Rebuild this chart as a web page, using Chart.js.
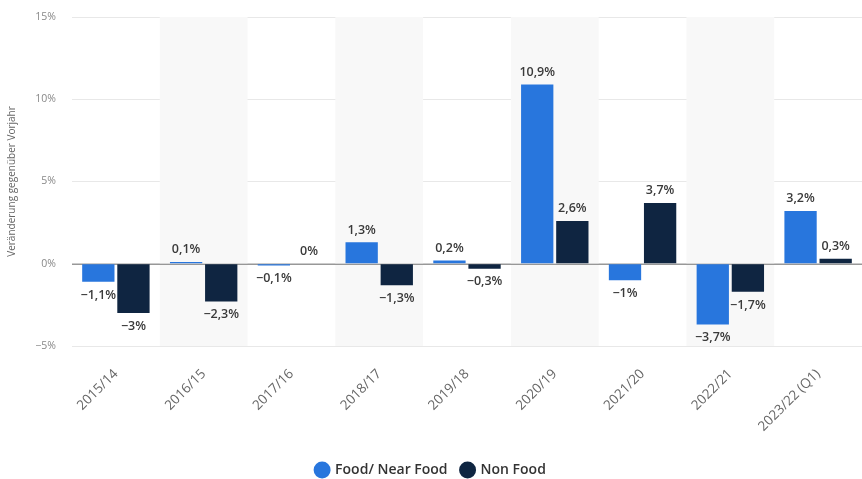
<!DOCTYPE html>
<html><head><meta charset="utf-8">
<script src="https://cdn.jsdelivr.net/npm/chart.js@4"></script>
<style>html,body{margin:0;padding:0;background:#fff;overflow:hidden}#w{width:862px;height:479px}</style>
</head><body><div id="w"><canvas id="c"></canvas></div>
<script>
const categories = ["2015/14","2016/15","2017/16","2018/17","2019/18","2020/19","2021/20","2022/21","2023/22 (Q1)"];
const foodValues = [-1.1, 0.1, -0.1, 1.3, 0.2, 10.9, -1, -3.7, 3.2];
const nonFoodValues = [-3, -2.3, 0, -1.3, -0.3, 2.6, 3.7, -1.7, 0.3];
const seriesNames = ["Food/ Near Food", "Non Food"];
const yTicks = [-5, 0, 5, 10, 15];
const yTitle = "Veränderung gegenüber Vorjahr";

const fmt = v => String(v).replace('.', ',').replace('-', '\u2212') + '%';
const FONT = "'Open Sans', 'Noto Sans', sans-serif";

const bands = {
  id: 'bands',
  beforeDatasetsDraw(chart) {
    const {ctx, chartArea: a, scales: {x}} = chart;
    const w = (a.right - a.left) / categories.length;
    ctx.save();
    ctx.fillStyle = '#f8f8f8';
    categories.forEach((c, i) => {
      if (i % 2 === 1) {
        const cx = x.getPixelForValue(i);
        ctx.fillRect(cx - w / 2, a.top, w, a.bottom - a.top);
      }
    });
    const y0 = chart.scales.y.getPixelForValue(0);
    ctx.strokeStyle = '#777';
    ctx.lineWidth = 1;
    ctx.beginPath(); ctx.moveTo(a.left, y0 + 0.5); ctx.lineTo(a.right, y0 + 0.5); ctx.stroke();
    ctx.restore();
  }
};

const labels = {
  id: 'labels',
  afterDatasetsDraw(chart) {
    const ctx = chart.ctx;
    ctx.save();
    ctx.font = "600 12.5px " + FONT;
    ctx.fillStyle = '#3a3a3a';
    ctx.textAlign = 'center';
    chart.data.datasets.forEach((ds, di) => {
      const meta = chart.getDatasetMeta(di);
      meta.data.forEach((bar, i) => {
        const v = ds.data[i];
        if (v >= 0) {
          ctx.textBaseline = 'bottom';
          ctx.fillText(fmt(v), bar.x, bar.y - 6);
        } else {
          ctx.textBaseline = 'top';
          ctx.fillText(fmt(v), bar.x, bar.y + 7);
        }
      });
    });
    ctx.restore();
  }
};

new Chart(document.getElementById('c'), {
  type: 'bar',
  data: {
    labels: categories,
    datasets: [
      {label: seriesNames[0], data: foodValues, backgroundColor: '#2876dd'},
      {label: seriesNames[1], data: nonFoodValues, backgroundColor: '#0f2541'}
    ]
  },
  options: {
    responsive: true,
    maintainAspectRatio: false,
    animation: false,
    layout: {padding: {top: 17, right: 0, bottom: -8, left: 0}},
    datasets: {bar: {categoryPercentage: 0.8, barPercentage: 0.92}},
    plugins: {
      legend: {
        position: 'bottom',
        labels: {usePointStyle: true, pointStyle: 'circle', boxWidth: 12, boxHeight: 12,
                 color: '#333', font: {family: FONT, size: 14, weight: '600'}, padding: 14}
      },
      tooltip: {enabled: false}
    },
    scales: {
      x: {
        grid: {display: false},
        border: {display: false},
        ticks: {color: '#666', font: {family: FONT, size: 13.5}, minRotation: 45, maxRotation: 45, padding: 12},
        afterFit: s => { s.height = 103; }
      },
      y: {
        min: -5, max: 15,
        afterBuildTicks: s => { s.ticks = yTicks.map(v => ({value: v})); },
        grid: {color: '#e8e8e8', drawTicks: false},
        border: {display: false},
        ticks: {color: '#888', font: {family: FONT, size: 10.5}, padding: 16, callback: v => String(v).replace('-', '\u2212') + '%'},
        title: {display: true, text: yTitle, color: '#666', font: {family: FONT, size: 10}, padding: {top: 6, bottom: 0}},
        afterFit: s => { s.width = 72; s.paddingTop = 0; s.paddingBottom = 0; }
      }
    }
  },
  plugins: [bands, labels]
});
</script></body></html>
